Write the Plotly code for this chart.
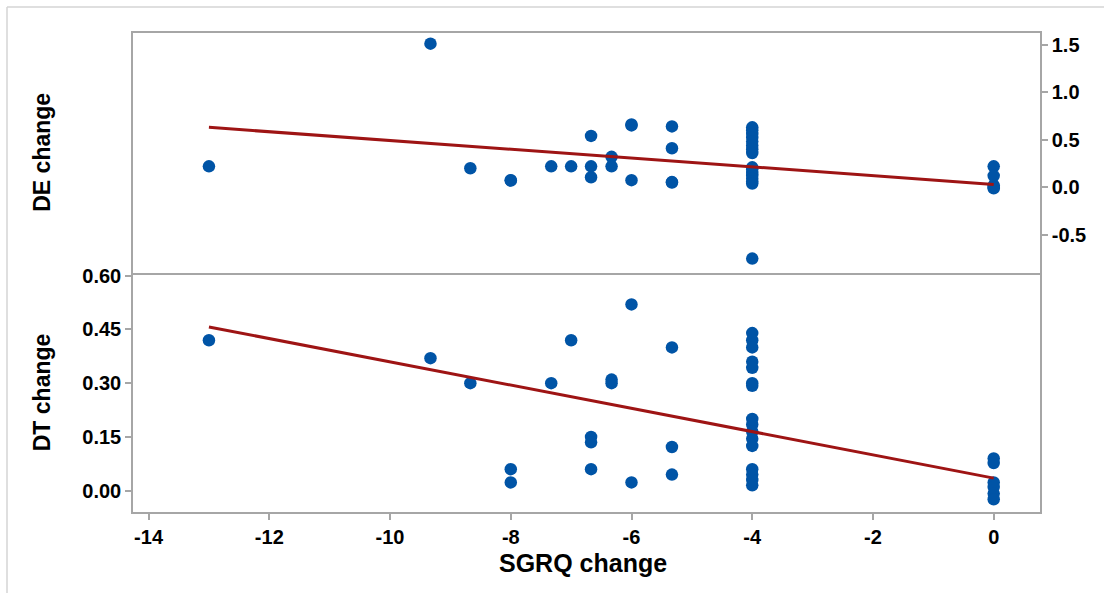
import plotly.graph_objects as go
from plotly.subplots import make_subplots

# ---- data ----
de_x = [-13, -9.33, -8.67, -8, -8, -7.33, -7,
        -6.67, -6.67, -6.67, -6.33, -6.33, -6, -6, -6,
        -5.33, -5.33, -5.33, -5.33,
        -4, -4, -4, -4, -4, -4, -4, -4, -4, -4, -4, -4, -4, -4, -4, -4,
        0, 0, 0, 0, 0]
de_y = [0.22, 1.51, 0.20, 0.075, 0.07, 0.22, 0.22,
        0.54, 0.22, 0.105, 0.32, 0.22, 0.65, 0.66, 0.075,
        0.64, 0.41, 0.05, 0.055,
        0.63, 0.60, 0.56, 0.52, 0.48, 0.44, 0.40, 0.36, 0.21, 0.19, 0.15, 0.12, 0.09, 0.06, 0.04, -0.75,
        0.22, 0.12, 0.02, 0.0, -0.01]

dt_x = [-13, -9.33, -8.67, -8, -8, -7.33, -7,
        -6.67, -6.67, -6.67, -6.33, -6.33, -6, -6,
        -5.33, -5.33, -5.33,
        -4, -4, -4, -4, -4, -4, -4, -4, -4, -4, -4, -4, -4, -4, -4, -4,
        0, 0, 0, 0, 0, 0]
dt_y = [0.42, 0.37, 0.30, 0.06, 0.023, 0.30, 0.42,
        0.15, 0.135, 0.06, 0.31, 0.30, 0.52, 0.023,
        0.40, 0.122, 0.045,
        0.44, 0.42, 0.40, 0.36, 0.343, 0.30, 0.293, 0.20, 0.185, 0.165, 0.145, 0.125, 0.06, 0.045, 0.03, 0.015,
        0.09, 0.077, 0.023, 0.01, -0.008, -0.024]

fit_x = [-13, 0]
de_fit = [0.63, 0.03]
dt_fit = [0.457, 0.035]

x_ticks = [-14, -12, -10, -8, -6, -4, -2, 0]
x_ticktext = ["-14", "-12", "-10", "-8", "-6", "-4", "-2", "0"]
de_ticks = [-0.5, 0.0, 0.5, 1.0, 1.5]
de_ticktext = ["-0.5", "0.0", "0.5", "1.0", "1.5"]
dt_ticks = [0.0, 0.15, 0.30, 0.45, 0.60]
dt_ticktext = ["0.00", "0.15", "0.30", "0.45", "0.60"]

# ---- style ----
FONT = "Liberation Sans"
MARK = "#0054A6"
LINE = "#9E1414"
AX = "#A6A6A6"
tickfont = dict(family=FONT, size=20, color="black", weight="bold")

fig = make_subplots(rows=2, cols=1, shared_xaxes=True, vertical_spacing=0)

fig.add_trace(go.Scatter(x=de_x, y=de_y, mode="markers",
                         marker=dict(color=MARK, size=12.5, line=dict(width=0)),
                         showlegend=False), row=1, col=1)
fig.add_trace(go.Scatter(x=fit_x, y=de_fit, mode="lines",
                         line=dict(color=LINE, width=3), showlegend=False), row=1, col=1)
fig.add_trace(go.Scatter(x=dt_x, y=dt_y, mode="markers",
                         marker=dict(color=MARK, size=12.5, line=dict(width=0)),
                         showlegend=False), row=2, col=1)
fig.add_trace(go.Scatter(x=fit_x, y=dt_fit, mode="lines",
                         line=dict(color=LINE, width=3), showlegend=False), row=2, col=1)

xr = [-14.258, 0.767]
common_ax = dict(showgrid=False, zeroline=False, showline=True, linecolor=AX,
                 linewidth=1.5, tickcolor=AX, tickwidth=1.5, ticklen=6)

fig.update_xaxes(range=xr, **common_ax)
fig.update_xaxes(row=1, col=1, ticks="", showticklabels=False, mirror=True)
fig.update_xaxes(row=2, col=1, ticks="outside", tickvals=x_ticks, ticktext=x_ticktext,
                 tickfont=tickfont, mirror=False)
fig.update_yaxes(row=1, col=1, range=[-0.896, 1.622], side="right", ticks="outside",
                 tickvals=de_ticks, ticktext=de_ticktext, tickfont=tickfont,
                 mirror=True, **common_ax)
fig.update_yaxes(row=2, col=1, range=[-0.0595, 0.609], side="left", ticks="outside",
                 tickvals=dt_ticks, ticktext=dt_ticktext, tickfont=tickfont,
                 mirror=True, **common_ax)

title_font = dict(family=FONT, size=23, color="black", weight="bold")
xtitle_font = dict(family=FONT, size=25, color="black", weight="bold")
L, R, T, B = 133, 71, 33, 81
W, H = 1111, 593
pw, ph = W - L - R, H - T - B

def px_x(px):
    return (px - L) / pw

def px_y(py):
    return (H - B - py) / ph

fig.update_layout(
    width=W, height=H,
    margin=dict(l=L, r=R, t=T, b=B),
    paper_bgcolor="white", plot_bgcolor="white",
    annotations=[
        dict(text="DE change", x=px_x(42), y=0.75, xref="paper", yref="paper",
             textangle=-90, showarrow=False, font=title_font,
             xanchor="center", yanchor="middle"),
        dict(text="DT change", x=px_x(42), y=0.25, xref="paper", yref="paper",
             textangle=-90, showarrow=False, font=title_font,
             xanchor="center", yanchor="middle"),
        dict(text="SGRQ change", x=px_x(583), y=px_y(563), xref="paper", yref="paper",
             showarrow=False, font=xtitle_font, xanchor="center", yanchor="middle"),
    ],
    shapes=[
        dict(type="line", xref="paper", yref="paper", x0=px_x(7), x1=px_x(1104),
             y0=px_y(7), y1=px_y(7), line=dict(color="#D4D4D4", width=1.5)),
        dict(type="line", xref="paper", yref="paper", x0=px_x(7), x1=px_x(7),
             y0=px_y(7), y1=px_y(593), line=dict(color="#D4D4D4", width=1.5)),
    ],
)

fig.write_html("out.html")
